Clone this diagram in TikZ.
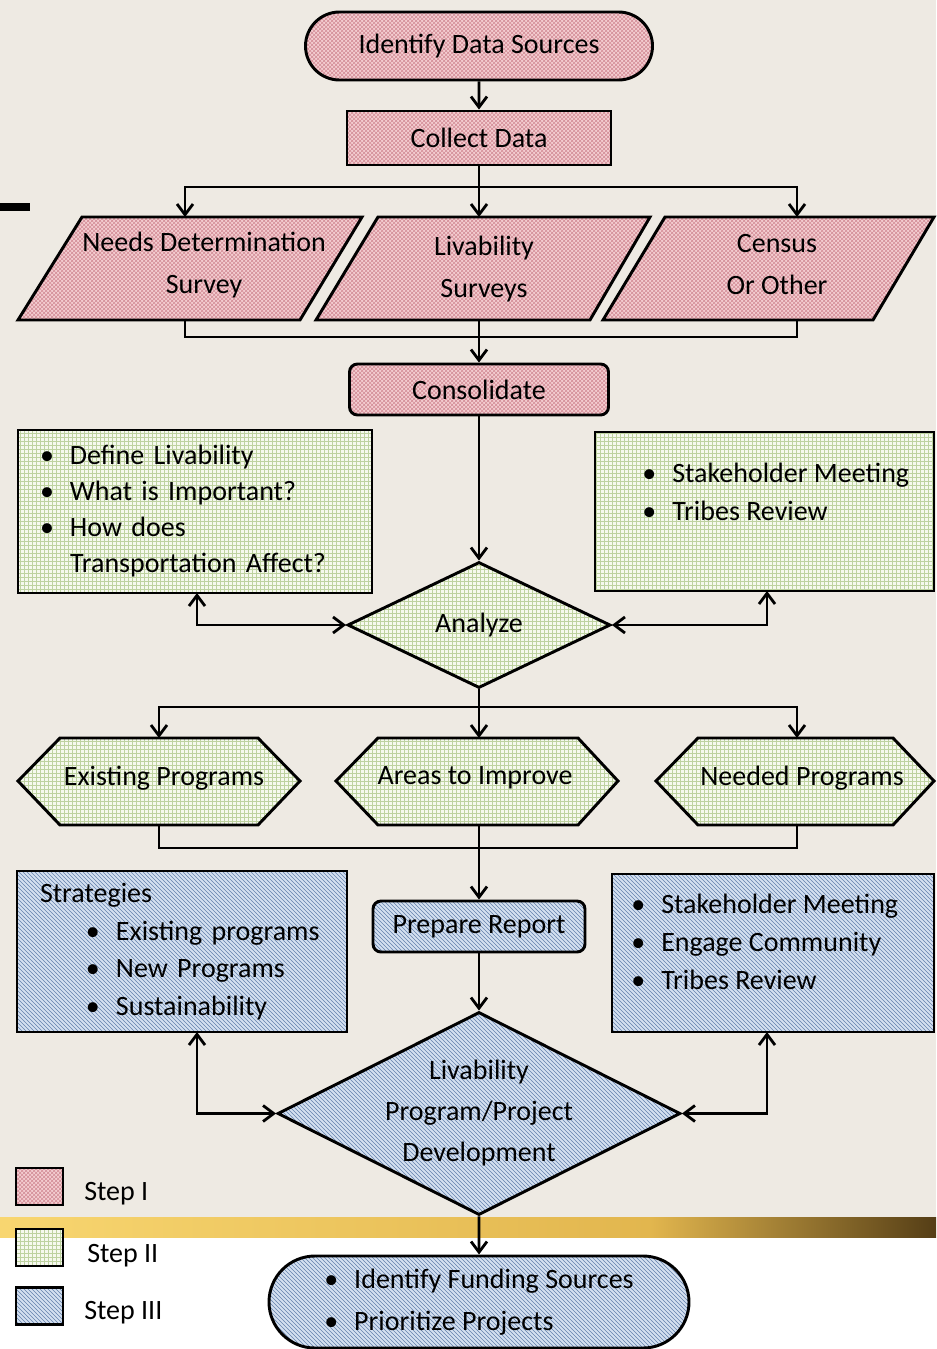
\documentclass[tikz,border=0pt]{standalone}
\usepackage{fontspec}
\setmainfont{Carlito}
\usetikzlibrary{shapes.geometric,shapes.misc,arrows.meta,patterns}
\definecolor{bgc}{RGB}{238,234,227}
\definecolor{pinkbg}{RGB}{244,206,209}
\definecolor{pinkln}{RGB}{210,140,150}
\definecolor{greenbg}{RGB}{246,249,238}
\definecolor{greenln}{RGB}{190,210,160}
\definecolor{bluebg}{RGB}{212,224,240}
\definecolor{blueln}{RGB}{100,130,172}
\definecolor{goldA}{RGB}{248,214,112}
\definecolor{goldB}{RGB}{226,182,78}
\definecolor{goldC}{RGB}{85,62,22}
\newcommand\pxu[1]{#1*0.75pt}
\newcommand\bul{\makebox[22.5pt][l]{\textbullet}}
\begin{document}
\begin{tikzpicture}[x=0.75pt,y=-0.75pt,
  shp/.style={draw=black, line width=2.2pt},
  pinkf/.style={preaction={fill=pinkbg}, pattern=crosshatch, pattern color=pinkln},
  greenf/.style={preaction={fill=greenbg}, pattern=grid, pattern color=greenln},
  bluef/.style={preaction={fill=bluebg}, pattern=north west lines, pattern color=blueln},
  t1/.style={font=\fontsize{21}{31.5}\selectfont, align=center, inner sep=0pt},
  tl/.style={font=\fontsize{21}{27}\selectfont, align=left, inner sep=0pt},
  conn/.style={line width=2.1pt},
  arr/.style={conn, -{Straight Barb[length=8pt,width=12pt]}},
  darr/.style={conn, {Straight Barb[length=8pt,width=12pt]}-{Straight Barb[length=8pt,width=12pt]}}]
\useasboundingbox (0,0) rectangle (936,1349);
% background
\fill[bgc] (0,0) rectangle (936,1217);
\fill[white] (0,1237) rectangle (936,1349);
\shade[left color=goldA, right color=goldB] (0,1217) rectangle (650,1237);
\shade[left color=goldB, right color=goldC] (650,1217) rectangle (936,1237);
\fill[black] (0,203) rectangle (30,211);

% Step I
\node[shp,pinkf,rounded rectangle,minimum width=\pxu{347},minimum height=\pxu{68},t1] (ids) at (479,46) {Identify Data Sources};
\node[shp,pinkf,rectangle,minimum width=\pxu{264},minimum height=\pxu{54},t1] (cd) at (479,138) {Collect Data};

\draw[shp,pinkf] (82,217) -- (362,217) -- (300,320) -- (18,320) -- cycle;
\draw[shp,pinkf] (378,217) -- (650,217) -- (590,320) -- (316,320) -- cycle;
\draw[shp,pinkf] (665,217) -- (934,217) -- (873,320) -- (603,320) -- cycle;
\node[t1] (p1) at (204,265) {Needs Determination\\Survey};
\node[t1] (p2) at (484,269) {Livability\\Surveys};
\node[t1] (p3) at (777,265) {Census\\Or Other};

\node[shp,pinkf,rounded corners=6pt,minimum width=\pxu{259},minimum height=\pxu{51},t1] (cons) at (479,389.5) {Consolidate};

% Step II
\node[shp,greenf,minimum width=\pxu{354},minimum height=\pxu{163},tl,text width=\pxu{310}] (lg) at (195,511.5)
  {\bul Define Livability\\\bul What is Important?\\\bul How does\\\hspace*{22.5pt}Transportation Affect?};
\node[shp,greenf,minimum width=\pxu{339},minimum height=\pxu{159}] (rg) at (764.5,511.5) {};
\node[tl,anchor=west,font=\fontsize{21}{28.5}\selectfont] (rgt) at (642,492) {\bul Stakeholder Meeting\\\bul Tribes Review};

\node[shp,greenf,diamond,aspect=2.1,minimum width=\pxu{263},minimum height=\pxu{126},t1] (ana) at (479,625) {Analyze};

\draw[shp,greenf] (18,781) -- (60,738) -- (258,738) -- (300,781) -- (258,825) -- (60,825) -- cycle;
\draw[shp,greenf] (336,781) -- (378,738) -- (578,738) -- (618,781) -- (578,825) -- (378,825) -- cycle;
\draw[shp,greenf] (656,781) -- (698,738) -- (893,738) -- (934,781) -- (893,825) -- (698,825) -- cycle;
\node[t1] (h1) at (164,778) {Existing Programs};
\node[t1] (h2) at (475,778) {Areas to Improve};
\node[t1] (h3) at (802,778) {Needed Programs};

% Step III
\node[shp,bluef,rounded corners=6pt,minimum width=\pxu{212},minimum height=\pxu{51},t1] (pr) at (479,926.5) {Prepare Report};
\node[shp,bluef,minimum width=\pxu{330},minimum height=\pxu{161},tl,text width=\pxu{284},font=\fontsize{21}{28.3}\selectfont] (lb) at (182,951.5)
  {Strategies\\\hspace*{34.5pt}\bul Existing programs\\\hspace*{34.5pt}\bul New Programs\\\hspace*{34.5pt}\bul Sustainability};
\node[shp,bluef,minimum width=\pxu{322},minimum height=\pxu{158}] (rb) at (773,953) {};
\node[tl,anchor=west,font=\fontsize{21}{28.3}\selectfont] (rbt) at (631,942)
  {\bul Stakeholder Meeting\\\bul Engage Community\\\bul Tribes Review};

\node[shp,bluef,diamond,aspect=2,minimum width=\pxu{403},minimum height=\pxu{203},t1,font=\fontsize{21}{30.75}\selectfont] (dev) at (479,1113.5)
  {Livability\\Program/Project\\Development};

\node[shp,bluef,rounded rectangle,minimum width=\pxu{420},minimum height=\pxu{92},tl,font=\fontsize{21}{31.5}\selectfont] (fin) at (479,1302)
  {\bul Identify Funding Sources\\\bul Prioritize Projects};

% legend
\node[shp,pinkf,minimum width=\pxu{47},minimum height=\pxu{37},inner sep=0pt] (lg1) at (39.5,1186.5) {};
\node[shp,greenf,minimum width=\pxu{47},minimum height=\pxu{37},inner sep=0pt] (lg2) at (39.5,1247.5) {};
\node[shp,bluef,minimum width=\pxu{47},minimum height=\pxu{37},inner sep=0pt] (lg3) at (39.5,1306) {};
\node[t1,anchor=west] (lt1) at (84,1194) {Step I};
\node[t1,anchor=west] (lt2) at (87,1256) {Step II};
\node[t1,anchor=west] (lt3) at (84,1313) {Step III};

% connectors
\coordinate (j1) at (479,187);
\coordinate (p1t) at (185,217);
\coordinate (p2t) at (479,217);
\coordinate (p3t) at (797,217);
\coordinate (p1b) at (185,320);
\coordinate (p2b) at (479,320);
\coordinate (p3b) at (797,320);
\coordinate (j2) at (479,337);
\coordinate (lga) at (197,593);
\coordinate (rga) at (767,591);
\coordinate (j3) at (479,707);
\coordinate (h1t) at (159,738);
\coordinate (h2t) at (479,738);
\coordinate (h3t) at (797,738);
\coordinate (h1b) at (159,825);
\coordinate (h2b) at (479,825);
\coordinate (h3b) at (797,825);
\coordinate (j4) at (479,848);
\coordinate (lba) at (197,1032);
\coordinate (rba) at (767,1032);

\draw[arr] (ids) -- (cd);
\draw[conn] (cd.south) -- (j1);
\draw[arr] (j1) -| (p1t);
\draw[arr] (j1) -- (p2t);
\draw[arr] (j1) -| (p3t);
\draw[conn] (p1b) |- (j2);
\draw[conn] (p3b) |- (j2);
\draw[arr] (p2b) -- (cons.north);
\draw[arr] (cons) -- (ana);
\draw[darr] (lga) |- (ana.west);
\draw[darr] (rga) |- (ana.east);
\draw[conn] (ana.south) -- (j3);
\draw[arr] (j3) -| (h1t);
\draw[arr] (j3) -- (h2t);
\draw[arr] (j3) -| (h3t);
\draw[conn] (h1b) |- (j4);
\draw[conn] (h3b) |- (j4);
\draw[arr] (h2b) -- (pr.north);
\draw[arr] (pr) -- (dev);
\draw[darr] (lba) |- (dev.west);
\draw[darr] (rba) |- (dev.east);
\draw[arr] (dev) -- (fin);
\end{tikzpicture}
\end{document}
